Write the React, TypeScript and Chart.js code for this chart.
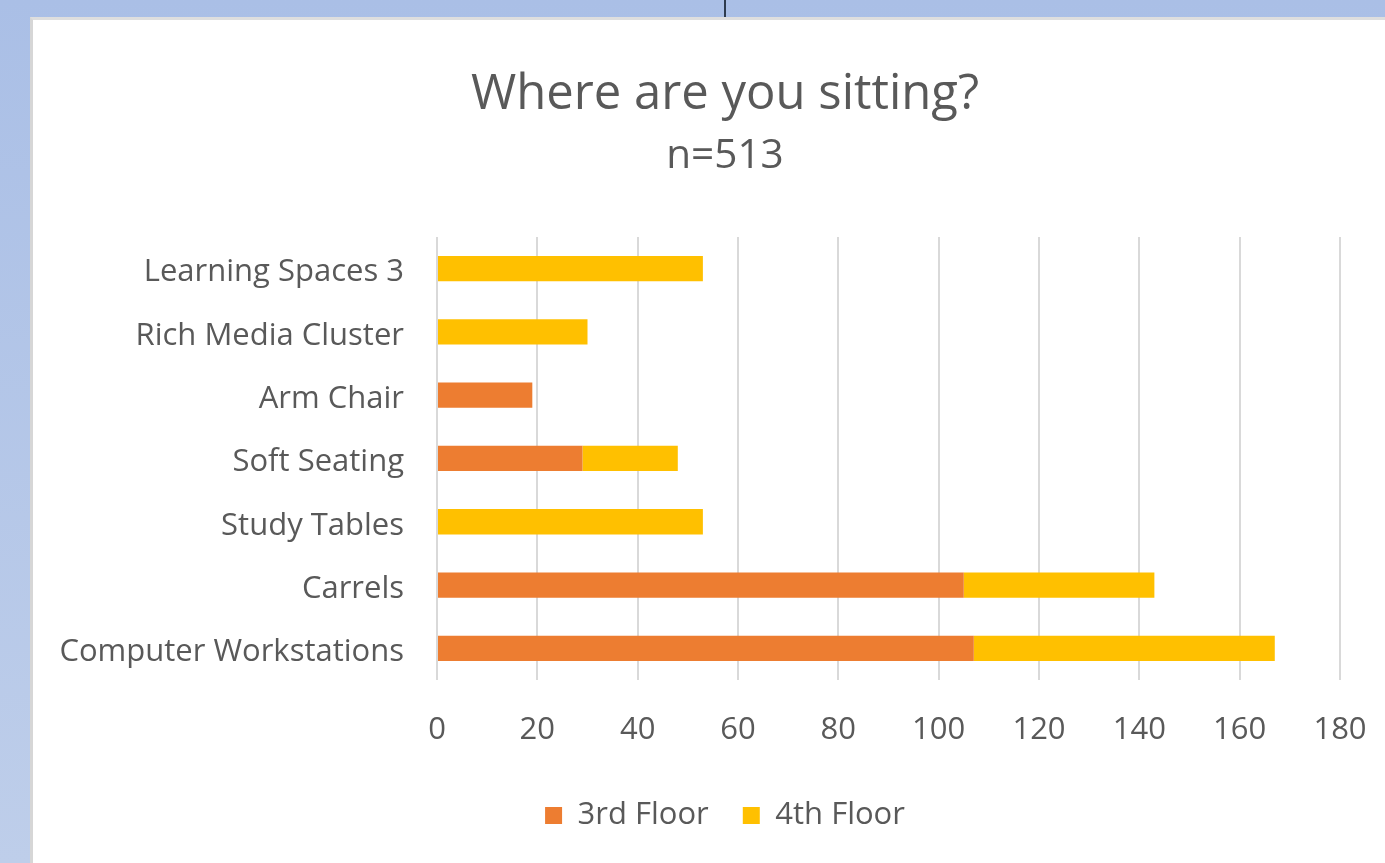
import React, { useEffect, useRef } from "react";
import { Chart, registerables } from "chart.js";

Chart.register(...registerables);

const categories = [
  "Learning Spaces 3",
  "Rich Media Cluster",
  "Arm Chair",
  "Soft Seating",
  "Study Tables",
  "Carrels",
  "Computer Workstations",
];
const thirdFloor = [0, 0, 19, 29, 0, 105, 107];
const fourthFloor = [53, 30, 0, 19, 53, 38, 60];
const seriesNames = ["3rd Floor", "4th Floor"];
const titleText = "Where are you sitting?";
const subtitleText = "n=513";

const FONT = "'Open Sans', 'Noto Sans', sans-serif";
const GRAY = "#595959";

export default function App() {
  const ref = useRef<HTMLCanvasElement | null>(null);

  useEffect(() => {
    if (!ref.current) return;
    const chart = new Chart(ref.current, {
      type: "bar",
      data: {
        labels: categories,
        datasets: [
          {
            label: seriesNames[0],
            data: thirdFloor,
            backgroundColor: "#ED7D31",
            borderWidth: 0,
            categoryPercentage: 1,
            barPercentage: 0.4,
          },
          {
            label: seriesNames[1],
            data: fourthFloor,
            backgroundColor: "#FFC000",
            borderWidth: 0,
            categoryPercentage: 1,
            barPercentage: 0.4,
          },
        ],
      },
      options: {
        indexAxis: "y",
        animation: false,
        responsive: false,
        maintainAspectRatio: false,
        layout: { padding: { left: 0, right: 0, top: 0, bottom: 22 } },
        scales: {
          x: {
            stacked: true,
            min: 0,
            max: 180,
            ticks: {
              stepSize: 20,
              color: GRAY,
              padding: 32,
              font: { family: FONT, size: 31 },
            },
            grid: { color: "#d9d9d9", lineWidth: 2, drawTicks: false },
            border: { display: false },
            afterFit: (scale: any) => {
              scale.paddingLeft = 0;
              scale.paddingRight = 77;
              scale.height = 86;
            },
          },
          y: {
            stacked: true,
            ticks: {
              color: GRAY,
              padding: 33,
              labelOffset: 4,
              font: { family: FONT, size: 31 },
            },
            grid: { display: false, drawTicks: false },
            border: { display: false },
            afterFit: (scale: any) => {
              scale.width = 404;
              scale.paddingTop = 0;
              scale.paddingBottom = 0;
            },
          },
        },
        plugins: {
          title: {
            display: true,
            text: titleText,
            color: GRAY,
            font: { family: FONT, size: 49, weight: "normal" },
            padding: { top: 46, bottom: 7 },
          },
          subtitle: {
            display: true,
            text: subtitleText,
            color: GRAY,
            font: { family: FONT, size: 40.5, weight: "normal" },
            padding: { top: 0, bottom: 56.5 },
          },
          legend: {
            position: "bottom",
            labels: {
              color: GRAY,
              font: { family: FONT, size: 31 },
              boxWidth: 17,
              boxHeight: 17,
              padding: 34,
            },
          },
          tooltip: { enabled: false },
        },
      },
    });
    return () => chart.destroy();
  }, []);

  return (
    <div
      style={{
        position: "fixed",
        left: 0,
        top: 0,
        width: 1385,
        height: 863,
        overflow: "hidden",
        background: "linear-gradient(to bottom, #AABFE6, #BECEEA)",
      }}
    >
      <div
        style={{
          position: "absolute",
          left: 724,
          top: 0,
          width: 2,
          height: 17,
          background: "#2e3b4e",
        }}
      />
      <div
        style={{
          position: "absolute",
          left: 30,
          top: 17,
          width: 1387,
          height: 846,
          background: "#ffffff",
          borderLeft: "3px solid #d6d6d6",
          borderTop: "3px solid #dedede",
          boxSizing: "border-box",
        }}
      >
        <canvas
          ref={ref}
          width={1384}
          height={843}
          style={{ display: "block", width: 1384, height: 843 }}
        />
      </div>
    </div>
  );
}
